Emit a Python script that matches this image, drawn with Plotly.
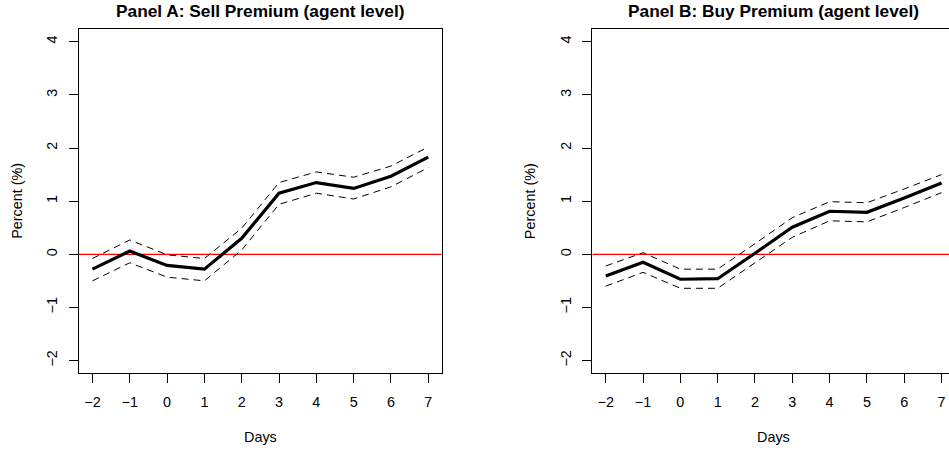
import plotly.graph_objects as go

# Event-study estimates with upper/lower confidence bands
days = [-2, -1, 0, 1, 2, 3, 4, 5, 6, 7]

sell_est = [-0.28, 0.06, -0.21, -0.28, 0.30, 1.15, 1.35, 1.24, 1.47, 1.83]
sell_hi = [-0.08, 0.27, -0.01, -0.08, 0.49, 1.35, 1.55, 1.45, 1.66, 2.02]
sell_lo = [-0.50, -0.16, -0.43, -0.50, 0.08, 0.94, 1.15, 1.04, 1.27, 1.63]

buy_est = [-0.41, -0.15, -0.47, -0.46, 0.02, 0.51, 0.81, 0.79, 1.06, 1.34]
buy_hi = [-0.22, 0.03, -0.28, -0.28, 0.20, 0.69, 0.99, 0.97, 1.23, 1.50]
buy_lo = [-0.60, -0.34, -0.64, -0.64, -0.16, 0.32, 0.63, 0.61, 0.88, 1.16]

titles = ["Panel A: Sell Premium (agent level)", "Panel B: Buy Premium (agent level)"]
x_title = "Days"
y_title = "Percent (%)"
x_ticks = [-2, -1, 0, 1, 2, 3, 4, 5, 6, 7]
y_ticks = [-2, -1, 0, 1, 2, 3, 4]

W, H = 949, 451
FONT = "Liberation Sans, Arial, Helvetica, sans-serif"
LABEL_SIZE = 14.4
TITLE_SIZE = 17.3

# plot regions in pixels
left_a, right_a = 79.0, 441.7
left_b = 592.3
top_px, bottom_px = 29.0, 373.3
unit_x = (right_a - left_a) / 9.72  # pixels per day
x_min = -2.36
x_max_a = 7.36
x_max_b = x_min + (W - left_b) / unit_x
y_range = [-2.24, 4.24]

fig = go.Figure()

panels = [
    ("x", "y", sell_est, sell_hi, sell_lo),
    ("x2", "y2", buy_est, buy_hi, buy_lo),
]
for xa, ya, est, hi, lo in panels:
    for band in (hi, lo):
        fig.add_trace(go.Scatter(
            x=days, y=band, xaxis=xa, yaxis=ya, mode="lines",
            line=dict(color="black", width=1, dash="7px,5px"),
            hoverinfo="skip", showlegend=False))
    fig.add_trace(go.Scatter(
        x=days, y=est, xaxis=xa, yaxis=ya, mode="lines",
        line=dict(color="black", width=3.2),
        showlegend=False))

# zero reference lines spanning each panel
for xa, ya, xmax in (("x", "y", x_max_a), ("x2", "y2", x_max_b)):
    fig.add_shape(type="line", xref=xa, yref=ya, x0=x_min, x1=xmax, y0=0, y1=0,
                  line=dict(color="red", width=1.2), layer="below")

tick_font = dict(family=FONT, size=LABEL_SIZE, color="black")
common_x = dict(
    tickmode="array", tickvals=x_ticks, ticks="outside", ticklen=9,
    tickcolor="black", tickwidth=1, showgrid=False, zeroline=False,
    showline=True, linecolor="black", linewidth=1, mirror=True,
    tickfont=tick_font, ticklabelstandoff=6,
    automargin=False, fixedrange=True,
)
common_y = dict(
    range=y_range, tickmode="array", tickvals=y_ticks, ticks="outside", ticklen=9,
    tickcolor="black", tickwidth=1, showgrid=False, zeroline=False,
    showline=True, linecolor="black", linewidth=1, tickangle=-90,
    tickfont=tick_font, ticklabelstandoff=6,
    automargin=False, fixedrange=True,
)

y_dom = [1 - bottom_px / H, 1 - top_px / H]
fig.update_layout(
    width=W, height=H,
    margin=dict(l=0, r=0, t=0, b=0),
    paper_bgcolor="white", plot_bgcolor="white",
    font=dict(family=FONT, size=LABEL_SIZE, color="black"),
    xaxis=dict(common_x, domain=[left_a / W, right_a / W], range=[x_min, x_max_a], anchor="y"),
    yaxis=dict(common_y, domain=y_dom, anchor="x", mirror=True),
    xaxis2=dict(common_x, domain=[left_b / W, 1.0], range=[x_min, x_max_b], anchor="y2"),
    yaxis2=dict(common_y, domain=y_dom, anchor="x2", mirror=False),
)

# panel titles and axis titles, centred on each full plot region
width_px = right_a - left_a
mid_y = (top_px + bottom_px) / 2
for title, left in zip(titles, (left_a, left_b)):
    cx = left + width_px / 2
    fig.add_annotation(
        text="<b>" + title + "</b>", x=cx / W, y=1 - 11 / H, xref="paper", yref="paper",
        xanchor="center", yanchor="middle", showarrow=False,
        font=dict(family=FONT, size=TITLE_SIZE, color="black"))
    fig.add_annotation(
        text=x_title, x=cx / W, y=1 - 437.3 / H, xref="paper", yref="paper",
        xanchor="center", yanchor="middle", showarrow=False,
        font=dict(family=FONT, size=LABEL_SIZE, color="black"))
    fig.add_annotation(
        text=y_title, x=(left - 62.3) / W, y=1 - mid_y / H, xref="paper", yref="paper",
        xanchor="center", yanchor="middle", showarrow=False, textangle=-90,
        font=dict(family=FONT, size=LABEL_SIZE, color="black"))

fig.write_html("out.html")
